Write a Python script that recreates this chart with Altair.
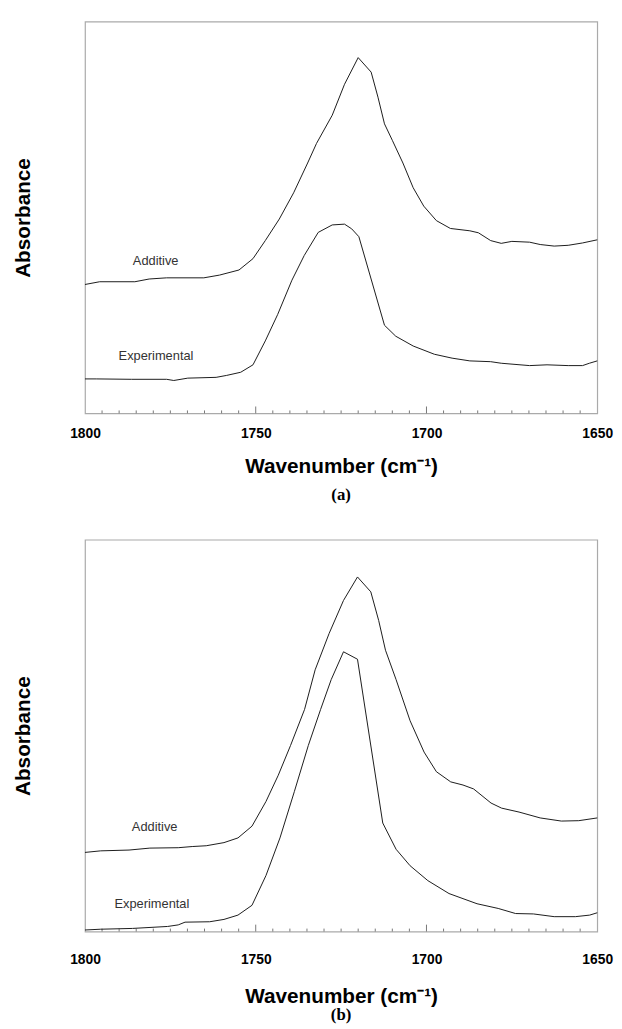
import altair as alt
import pandas as pd

# ---------------- data (relative absorbance, 0 = frame bottom, 1 = frame top)
# Panel (a)
a_add_wn = [1800, 1795.7, 1785.4, 1781.2, 1776.1, 1765.2, 1760.6, 1754.9, 1750.8, 1747.2,
            1743.1, 1738.9, 1734.8, 1732.2, 1727.6, 1724.0, 1720.0, 1716.2, 1714.2, 1712.3,
            1710.0, 1706.9, 1703.9, 1700.8, 1697.1, 1693.0, 1687.3, 1684.8, 1681.2, 1678.1,
            1675.0, 1669.8, 1666.7, 1662.6, 1658.5, 1654.3, 1650]
a_add_ab = [0.329, 0.336, 0.336, 0.343, 0.346, 0.346, 0.353, 0.366, 0.395, 0.441,
            0.496, 0.563, 0.639, 0.689, 0.761, 0.840, 0.908, 0.871, 0.807, 0.739,
            0.697, 0.639, 0.576, 0.529, 0.492, 0.472, 0.466, 0.461, 0.441, 0.434,
            0.439, 0.437, 0.431, 0.427, 0.429, 0.435, 0.443]
a_exp_wn = [1800, 1796.7, 1786.4, 1776.1, 1774.0, 1769.9, 1761.6, 1758.5, 1754.4, 1750.8,
            1747.2, 1743.6, 1739.4, 1735.8, 1731.7, 1727.6, 1724.0, 1721.9, 1719.8, 1712.3,
            1709.0, 1703.9, 1697.7, 1692.5, 1687.3, 1681.2, 1678.1, 1669.8, 1664.7, 1658.5,
            1654.3, 1652.3, 1650]
a_exp_ab = [0.088, 0.088, 0.087, 0.087, 0.084, 0.090, 0.092, 0.097, 0.105, 0.124,
            0.185, 0.252, 0.340, 0.403, 0.462, 0.481, 0.483, 0.471, 0.451, 0.225,
            0.197, 0.172, 0.151, 0.141, 0.134, 0.132, 0.128, 0.122, 0.124, 0.122,
            0.122, 0.128, 0.134]

# Panel (b)
b_add_wn = [1800, 1795.4, 1787.1, 1781.0, 1772.7, 1768.6, 1764.5, 1759.3, 1755.2, 1751.1,
            1747.0, 1743.4, 1739.8, 1735.7, 1732.6, 1728.5, 1724.3, 1720.2, 1716.3, 1714.0,
            1712.0, 1708.9, 1704.8, 1700.7, 1697.1, 1692.9, 1689.3, 1686.2, 1681.1, 1678.0,
            1672.9, 1666.7, 1660.5, 1655.4, 1650]
b_add_ab = [0.202, 0.206, 0.208, 0.213, 0.214, 0.217, 0.219, 0.227, 0.239, 0.269,
            0.332, 0.399, 0.475, 0.567, 0.668, 0.761, 0.845, 0.905, 0.867, 0.794,
            0.718, 0.643, 0.538, 0.458, 0.408, 0.382, 0.374, 0.364, 0.328, 0.315,
            0.305, 0.290, 0.282, 0.283, 0.290]
b_exp_wn = [1800, 1795.4, 1786.1, 1775.8, 1772.7, 1770.7, 1763.5, 1759.3, 1755.2, 1751.1,
            1747.0, 1742.9, 1738.7, 1734.6, 1731.0, 1727.9, 1724.3, 1720.2, 1712.8, 1708.9,
            1704.8, 1699.6, 1693.4, 1685.2, 1679.0, 1673.9, 1668.7, 1662.6, 1656.4, 1652.2,
            1650]
b_exp_ab = [0.004, 0.006, 0.008, 0.013, 0.017, 0.024, 0.025, 0.031, 0.042, 0.067,
            0.143, 0.239, 0.357, 0.475, 0.567, 0.643, 0.714, 0.695, 0.277, 0.210,
            0.168, 0.130, 0.097, 0.071, 0.059, 0.046, 0.045, 0.038, 0.038, 0.042,
            0.048]

# curve labels: (text, wavenumber, relative absorbance)
a_labels = [("Additive", 1779.3, 0.390), ("Experimental", 1779.2, 0.146)]
b_labels = [("Additive", 1779.6, 0.266), ("Experimental", 1780.4, 0.071)]

tick_labels = [1800, 1750, 1700, 1650]
major_ticks = [1750, 1700]
minor_ticks = [v for v in range(1655, 1800, 5) if v not in major_ticks]

W, H = 519, 397
SANS = "Liberation Sans"
SERIF = "Liberation Serif"


def panel(add_wn, add_ab, exp_wn, exp_ab, labels, letter, lab_pad, title_pad, letter_off):
    df = pd.DataFrame({
        "wn": add_wn + exp_wn,
        "ab": add_ab + exp_ab,
        "series": ["Additive"] * len(add_wn) + ["Experimental"] * len(exp_wn),
    })
    lab_df = pd.DataFrame(labels, columns=["text", "wn", "ab"])
    xscale = alt.Scale(domain=[1800, 1650], nice=False, zero=False)
    yscale = alt.Scale(domain=[0, 1], nice=False, zero=False)
    x = alt.X("wn:Q", scale=xscale,
              axis=alt.Axis(values=tick_labels, format="d", ticks=False, grid=False,
                            domain=False, labelFont=SANS, labelFontSize=14,
                            labelFontWeight="bold", labelColor="#000",
                            labelPadding=lab_pad, labelFlush=False,
                            title="Wavenumber (cm⁻¹)", titleFont=SANS,
                            titleFontSize=21, titleFontWeight="bold",
                            titleColor="#000", titlePadding=title_pad))
    y = alt.Y("ab:Q", scale=yscale,
              axis=alt.Axis(labels=False, ticks=False, grid=False, domain=False,
                            title="Absorbance", titleFont=SANS, titleFontSize=21,
                            titleFontWeight="bold", titleColor="#000",
                            titlePadding=52))
    lines = alt.Chart(df).mark_line(color="#1a1a1a", strokeWidth=1).encode(
        x=x, y=y, detail="series:N")
    texts = alt.Chart(lab_df).mark_text(font=SANS, fontSize=13, color="#333").encode(
        x=alt.X("wn:Q", scale=xscale), y=alt.Y("ab:Q", scale=yscale), text="text:N")
    minor = alt.Chart(pd.DataFrame({"wn": minor_ticks})).mark_rule(
        color="#777", strokeWidth=1).encode(
        x=alt.X("wn:Q", scale=xscale), y=alt.value(H), y2=alt.value(H - 3))
    major = alt.Chart(pd.DataFrame({"wn": major_ticks})).mark_rule(
        color="#777", strokeWidth=1).encode(
        x=alt.X("wn:Q", scale=xscale), y=alt.value(H), y2=alt.value(H - 7))
    return alt.layer(minor, major, lines, texts).properties(
        width=W, height=H,
        title=alt.TitleParams(letter, orient="bottom", anchor="middle", font=SERIF,
                              fontSize=17, fontWeight="bold", color="#000",
                              offset=letter_off))


pa = panel(a_add_wn, a_add_ab, a_exp_wn, a_exp_ab, a_labels, "(a)", 13, 16, 11)
pb = panel(b_add_wn, b_add_ab, b_exp_wn, b_exp_ab, b_labels, "(b)", 21, 20, 1)

chart = alt.vconcat(pa, pb, spacing=35).properties(
    padding={"left": 4, "top": 6, "right": 0, "bottom": 0},
    background="white",
).configure_view(stroke="#aaa", strokeWidth=1.2)

chart.save("out.html", embed_options={"renderer": "svg", "actions": False})
